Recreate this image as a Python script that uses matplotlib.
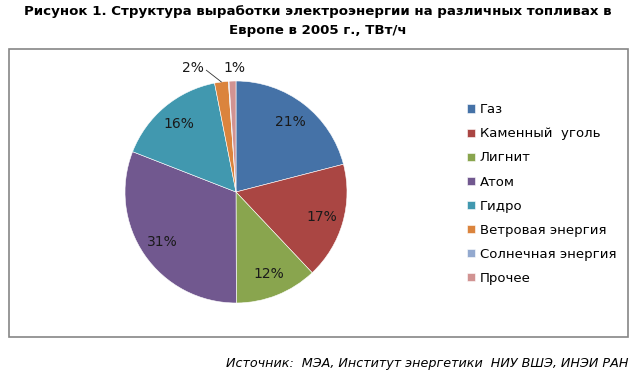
import numpy as np
import matplotlib
matplotlib.use('Agg')
from matplotlib import pyplot as plt
from matplotlib.patches import Rectangle

# Данные
categorias = ['Газ', 'Каменный  уголь', 'Лигнит', 'Атом', 'Гидро',
              'Ветровая энергия', 'Солнечная энергия', 'Прочее']
valores = [21, 17, 12, 31, 16, 2, 0.1, 1]
etiquetas = ['21%', '17%', '12%', '31%', '16%', '', '', '']
colores = ['#4572A7', '#AA4643', '#89A54E', '#71588F', '#4198AF',
           '#DB843D', '#93A9CF', '#D19392']

titulo = ('Рисунок 1. Структура выработки электроэнергии на различных топливах в\n'
          'Европе в 2005 г., ТВт/ч')
fuente = 'Источник:  МЭА, Институт энергетики  НИУ ВШЭ, ИНЭИ РАН'

W, H = 635, 375
fig = plt.figure(figsize=(W / 100, H / 100), dpi=100)
plt.rcParams['font.family'] = ['DejaVu Sans']

# marco gris
fig.patches.append(Rectangle((9 / W, 1 - 337 / H), 619 / W, 288 / H,
                             transform=fig.transFigure, fill=False,
                             edgecolor='#868686', linewidth=1.2))

# pie: centro (236,192) px, radio 111 px
R = 111
lado = 300
cx, cy = 236, 192
ax = fig.add_axes([(cx - lado / 2) / W, 1 - (cy + lado / 2) / H, lado / W, lado / H])
wedges, textos = ax.pie(valores, colors=colores, startangle=90, counterclock=False,
                        labels=etiquetas, labeldistance=0.8,
                        wedgeprops={'edgecolor': 'white', 'linewidth': 0.4},
                        textprops={'fontsize': 10, 'ha': 'center', 'va': 'center',
                                   'color': '#1a1a1a'})
lim = lado / 2 / R
ax.set_xlim(-lim, lim)
ax.set_ylim(-lim, lim)
ax.set_aspect('equal')

# etiquetas externas: Ветровая (2%) y Прочее (1%)
w = wedges[5]
ang = np.deg2rad((w.theta1 + w.theta2) / 2)
px, py = np.cos(ang), np.sin(ang)
ax.annotate('2%', xy=(px, py), xytext=(px - 0.26, 1.117), fontsize=10,
            ha='center', va='center', color='#1a1a1a',
            arrowprops={'arrowstyle': '-', 'color': '#333333', 'lw': 0.6,
                        'shrinkA': 0, 'shrinkB': 0,
                        'relpos': (1.0, 0.5)})
w = wedges[7]
ang = np.deg2rad((w.theta1 + w.theta2) / 2)
ax.text(np.cos(ang) + 0.02, 1.117, '1%', fontsize=10, ha='center', va='center',
        color='#1a1a1a')

# leyenda
ley = fig.legend(wedges, categorias, loc='upper left',
                 bbox_to_anchor=(462 / W, 1 - 98 / H), frameon=False,
                 fontsize=9.5, handlelength=0.6, handleheight=0.6,
                 handletextpad=0.35, labelspacing=0.84, borderaxespad=0)

fig.text(318 / W, 1 - 21 / H, titulo, ha='center', va='center',
         fontsize=9.6, fontweight='bold', linespacing=1.55)
fig.text(628 / W, 1 - 364 / H, fuente, ha='right', va='center',
         fontsize=9.2, style='italic')

fig.savefig('out.png', dpi=100)
